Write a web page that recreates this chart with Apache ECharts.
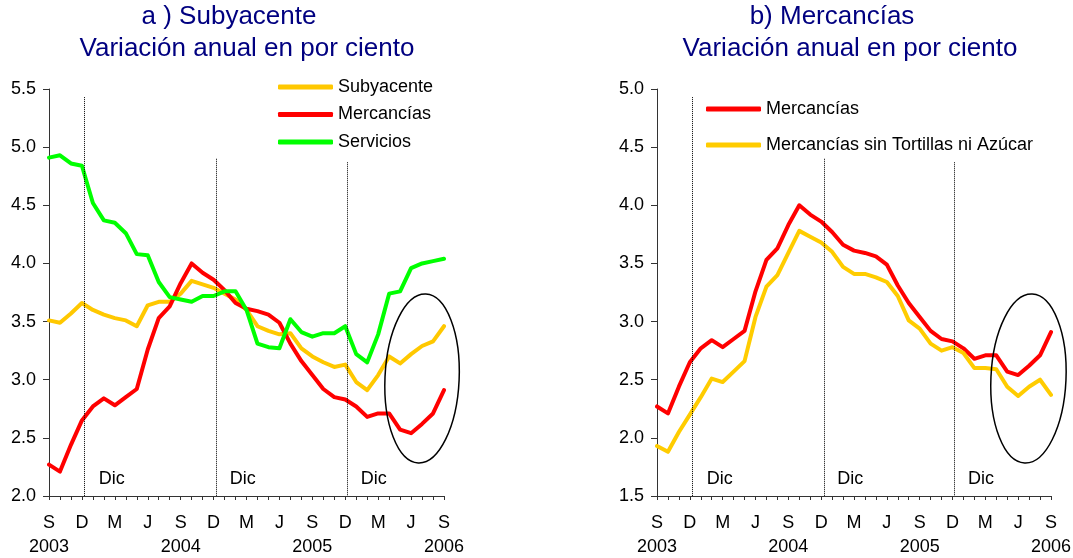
<!DOCTYPE html>
<html>
<head>
<meta charset="utf-8">
<script src="https://cdn.jsdelivr.net/npm/echarts@6/dist/echarts.min.js"></script>
<style>
  html, body { margin: 0; padding: 0; background: #fff; }
  #main { width: 1073px; height: 558px; }
</style>
</head>
<body>
<div id="main"></div>
<script>
// Sep 2003 .. Sep 2006, monthly (index 0..36)
var monthLabels = ['S','','','D','','','M','','','J','','',
                   'S','','','D','','','M','','','J','','',
                   'S','','','D','','','M','','','J','','','S'];
var yearLabels = { 0: '2003', 12: '2004', 24: '2005', 36: '2006' };

var subyacente = [3.51, 3.49, 3.57, 3.66, 3.60, 3.56, 3.53, 3.51, 3.46, 3.64, 3.67, 3.67,
                  3.74, 3.85, 3.82, 3.79, 3.74, 3.69, 3.60, 3.46, 3.42, 3.39, 3.40, 3.27,
                  3.20, 3.15, 3.11, 3.13, 2.98, 2.91, 3.04, 3.20, 3.14, 3.22, 3.29, 3.33, 3.46];
var mercancias = [2.27, 2.21, 2.44, 2.65, 2.77, 2.84, 2.78, 2.85, 2.92, 3.26, 3.53, 3.63,
                  3.83, 4.00, 3.92, 3.86, 3.77, 3.66, 3.61, 3.59, 3.56, 3.49, 3.31, 3.16,
                  3.04, 2.92, 2.85, 2.83, 2.77, 2.68, 2.71, 2.71, 2.57, 2.54, 2.62, 2.71, 2.91];
var servicios = [4.91, 4.93, 4.86, 4.84, 4.52, 4.37, 4.35, 4.26, 4.08, 4.07, 3.84, 3.71,
                 3.69, 3.67, 3.72, 3.72, 3.76, 3.76, 3.60, 3.31, 3.28, 3.27, 3.52, 3.41,
                 3.37, 3.40, 3.40, 3.46, 3.22, 3.15, 3.39, 3.74, 3.76, 3.96, 4.00, 4.02, 4.04];
var mercSinTortillas = [1.93, 1.88, 2.05, 2.20, 2.35, 2.51, 2.48, 2.57, 2.66, 3.04, 3.30, 3.40,
                        3.59, 3.78, 3.73, 3.68, 3.60, 3.47, 3.41, 3.41, 3.38, 3.34, 3.22, 3.01,
                        2.94, 2.81, 2.75, 2.78, 2.73, 2.60, 2.60, 2.59, 2.44, 2.36, 2.44, 2.50, 2.37];

var yTicksA = { min: 2.0, max: 5.5, step: 0.5 };
var yTicksB = { min: 1.5, max: 5.0, step: 0.5 };

function pairs(arr) {
  return arr.map(function (v, i) { return [i, v]; });
}

var FONT = 'Arial, "Liberation Sans", sans-serif';
var NAVY = '#000080';
var FS = 18;

function xAxisFor(gridIndex) {
  return {
    gridIndex: gridIndex,
    type: 'value',
    min: 0, max: 36, interval: 1,
    axisLine: { lineStyle: { color: '#333', width: 1 } },
    axisTick: { inside: false, length: 4, lineStyle: { color: '#333' } },
    splitLine: { show: false },
    axisLabel: {
      showMinLabel: true, showMaxLabel: true,
      margin: 15, fontSize: FS, lineHeight: 24, color: '#000', fontFamily: FONT,
      formatter: function (v) {
        var s = monthLabels[Math.round(v)] || '';
        var y = yearLabels[Math.round(v)];
        return y ? s + '\n' + y : s;
      }
    }
  };
}

function yAxisFor(gridIndex, t) {
  return {
    gridIndex: gridIndex,
    type: 'value',
    min: t.min, max: t.max, interval: t.step,
    axisLine: { show: true, lineStyle: { color: '#333', width: 1 } },
    axisTick: { show: true, length: 6, lineStyle: { color: '#333' } },
    splitLine: { show: false },
    axisLabel: {
      margin: 13, fontSize: FS, color: '#000', fontFamily: FONT,
      formatter: function (v) { return v.toFixed(1); }
    }
  };
}

// december separators and labels (x in months, y in axis units)
function decLines(bottom, tops) {
  return [3.2, 15.25, 27.15].map(function (x, k) {
    return [{ coord: [x, tops[k]] }, { coord: [x, bottom] }];
  });
}
function decLabels(y) {
  return [5.73, 17.65, 29.6].map(function (x) {
    return { coord: [x, y], value: 'Dic' };
  });
}

var markLineStyle = {
  silent: true, symbol: ['none', 'none'], animation: false,
  label: { show: false },
  lineStyle: { type: 'dotted', color: '#000', width: 1 }
};
var markPointStyle = {
  silent: true, symbol: 'rect', symbolSize: 1, animation: false,
  itemStyle: { color: 'rgba(0,0,0,0)' },
  label: { show: true, position: 'inside', color: '#000', fontSize: FS, fontFamily: FONT,
           formatter: 'Dic' }
};

function lineSeries(name, data, color, xi, extra) {
  var s = {
    name: name, type: 'line', xAxisIndex: xi, yAxisIndex: xi,
    data: pairs(data), showSymbol: false, symbol: 'none',
    lineStyle: { color: color, width: 4, cap: 'round', join: 'round' },
    itemStyle: { color: color },
    animation: false
  };
  if (extra) Object.assign(s, extra);
  return s;
}

var chart = echarts.init(document.getElementById('main'), null, { renderer: 'canvas' });

var option = {
  backgroundColor: '#fff',
  textStyle: { fontFamily: FONT },
  grid: [
    { left: 49, top: 89, width: 395, height: 407, containLabel: false, outerBoundsMode: 'none' },
    { left: 657, top: 89, width: 394, height: 407, containLabel: false, outerBoundsMode: 'none' }
  ],
  xAxis: [xAxisFor(0), xAxisFor(1)],
  yAxis: [yAxisFor(0, yTicksA), yAxisFor(1, yTicksB)],
  legend: [
    {
      orient: 'vertical', left: 278, top: 76, padding: 0, itemGap: 5.5,
      icon: 'roundRect', itemWidth: 55, itemHeight: 5, selectedMode: false,
      textStyle: { fontSize: FS, lineHeight: 22, color: '#000', fontFamily: FONT },
      data: ['Subyacente', 'Mercancías', 'Servicios']
    },
    {
      orient: 'vertical', left: 706, top: 98, padding: 0, itemGap: 14,
      icon: 'roundRect', itemWidth: 55, itemHeight: 5, selectedMode: false,
      textStyle: { fontSize: FS, lineHeight: 22, color: '#000', fontFamily: FONT },
      data: ['Mercancías', 'Mercancías sin Tortillas ni Azúcar']
    }
  ],
  series: [
    lineSeries('Subyacente', subyacente, '#FFC800', 0, {
      markLine: Object.assign({ data: decLines(2.0, [5.43, 4.90, 4.87]) }, markLineStyle),
      markPoint: Object.assign({ data: decLabels(2.15) }, markPointStyle)
    }),
    lineSeries('Mercancías', mercancias, '#FF0000', 0),
    lineSeries('Servicios', servicios, '#00FF00', 0),
    lineSeries('Mercancías', mercancias, '#FF0000', 1, {
      markLine: Object.assign({ data: decLines(1.5, [4.93, 4.40, 4.37]) }, markLineStyle),
      markPoint: Object.assign({ data: decLabels(1.65) }, markPointStyle)
    }),
    lineSeries('Mercancías sin Tortillas ni Azúcar', mercSinTortillas, '#FFCC00', 1)
  ]
};

chart.setOption(option);

// titles and highlight ellipses
function title(text, x, y) {
  return {
    type: 'text', x: x, y: y, silent: true,
    style: {
      text: text, fill: NAVY, font: '26px ' + FONT,
      align: 'center', verticalAlign: 'middle',
      textAlign: 'center', textVerticalAlign: 'middle'
    }
  };
}
function ellipse(gridIndex, cx, cy, rx, ry) {
  var c = chart.convertToPixel({ gridIndex: gridIndex }, [cx, cy]);
  var e = chart.convertToPixel({ gridIndex: gridIndex }, [cx + rx, cy + ry]);
  return {
    type: 'ellipse', x: c[0], y: c[1], rotation: -0.045, silent: true, z: 10,
    shape: { cx: 0, cy: 0, rx: Math.abs(e[0] - c[0]), ry: Math.abs(c[1] - e[1]) },
    style: { fill: 'none', stroke: '#000', lineWidth: 1.5 }
  };
}

chart.setOption({
  graphic: [
    title('a ) Subyacente', 229, 17),
    title('Variación anual en por ciento', 247, 49),
    title('b) Mercancías', 832, 17),
    title('Variación anual en por ciento', 850, 49),
    ellipse(0, 34.0, 3.01, 3.38, 0.727),
    ellipse(1, 33.94, 2.51, 3.43, 0.727)
  ]
});
</script>
</body>
</html>
